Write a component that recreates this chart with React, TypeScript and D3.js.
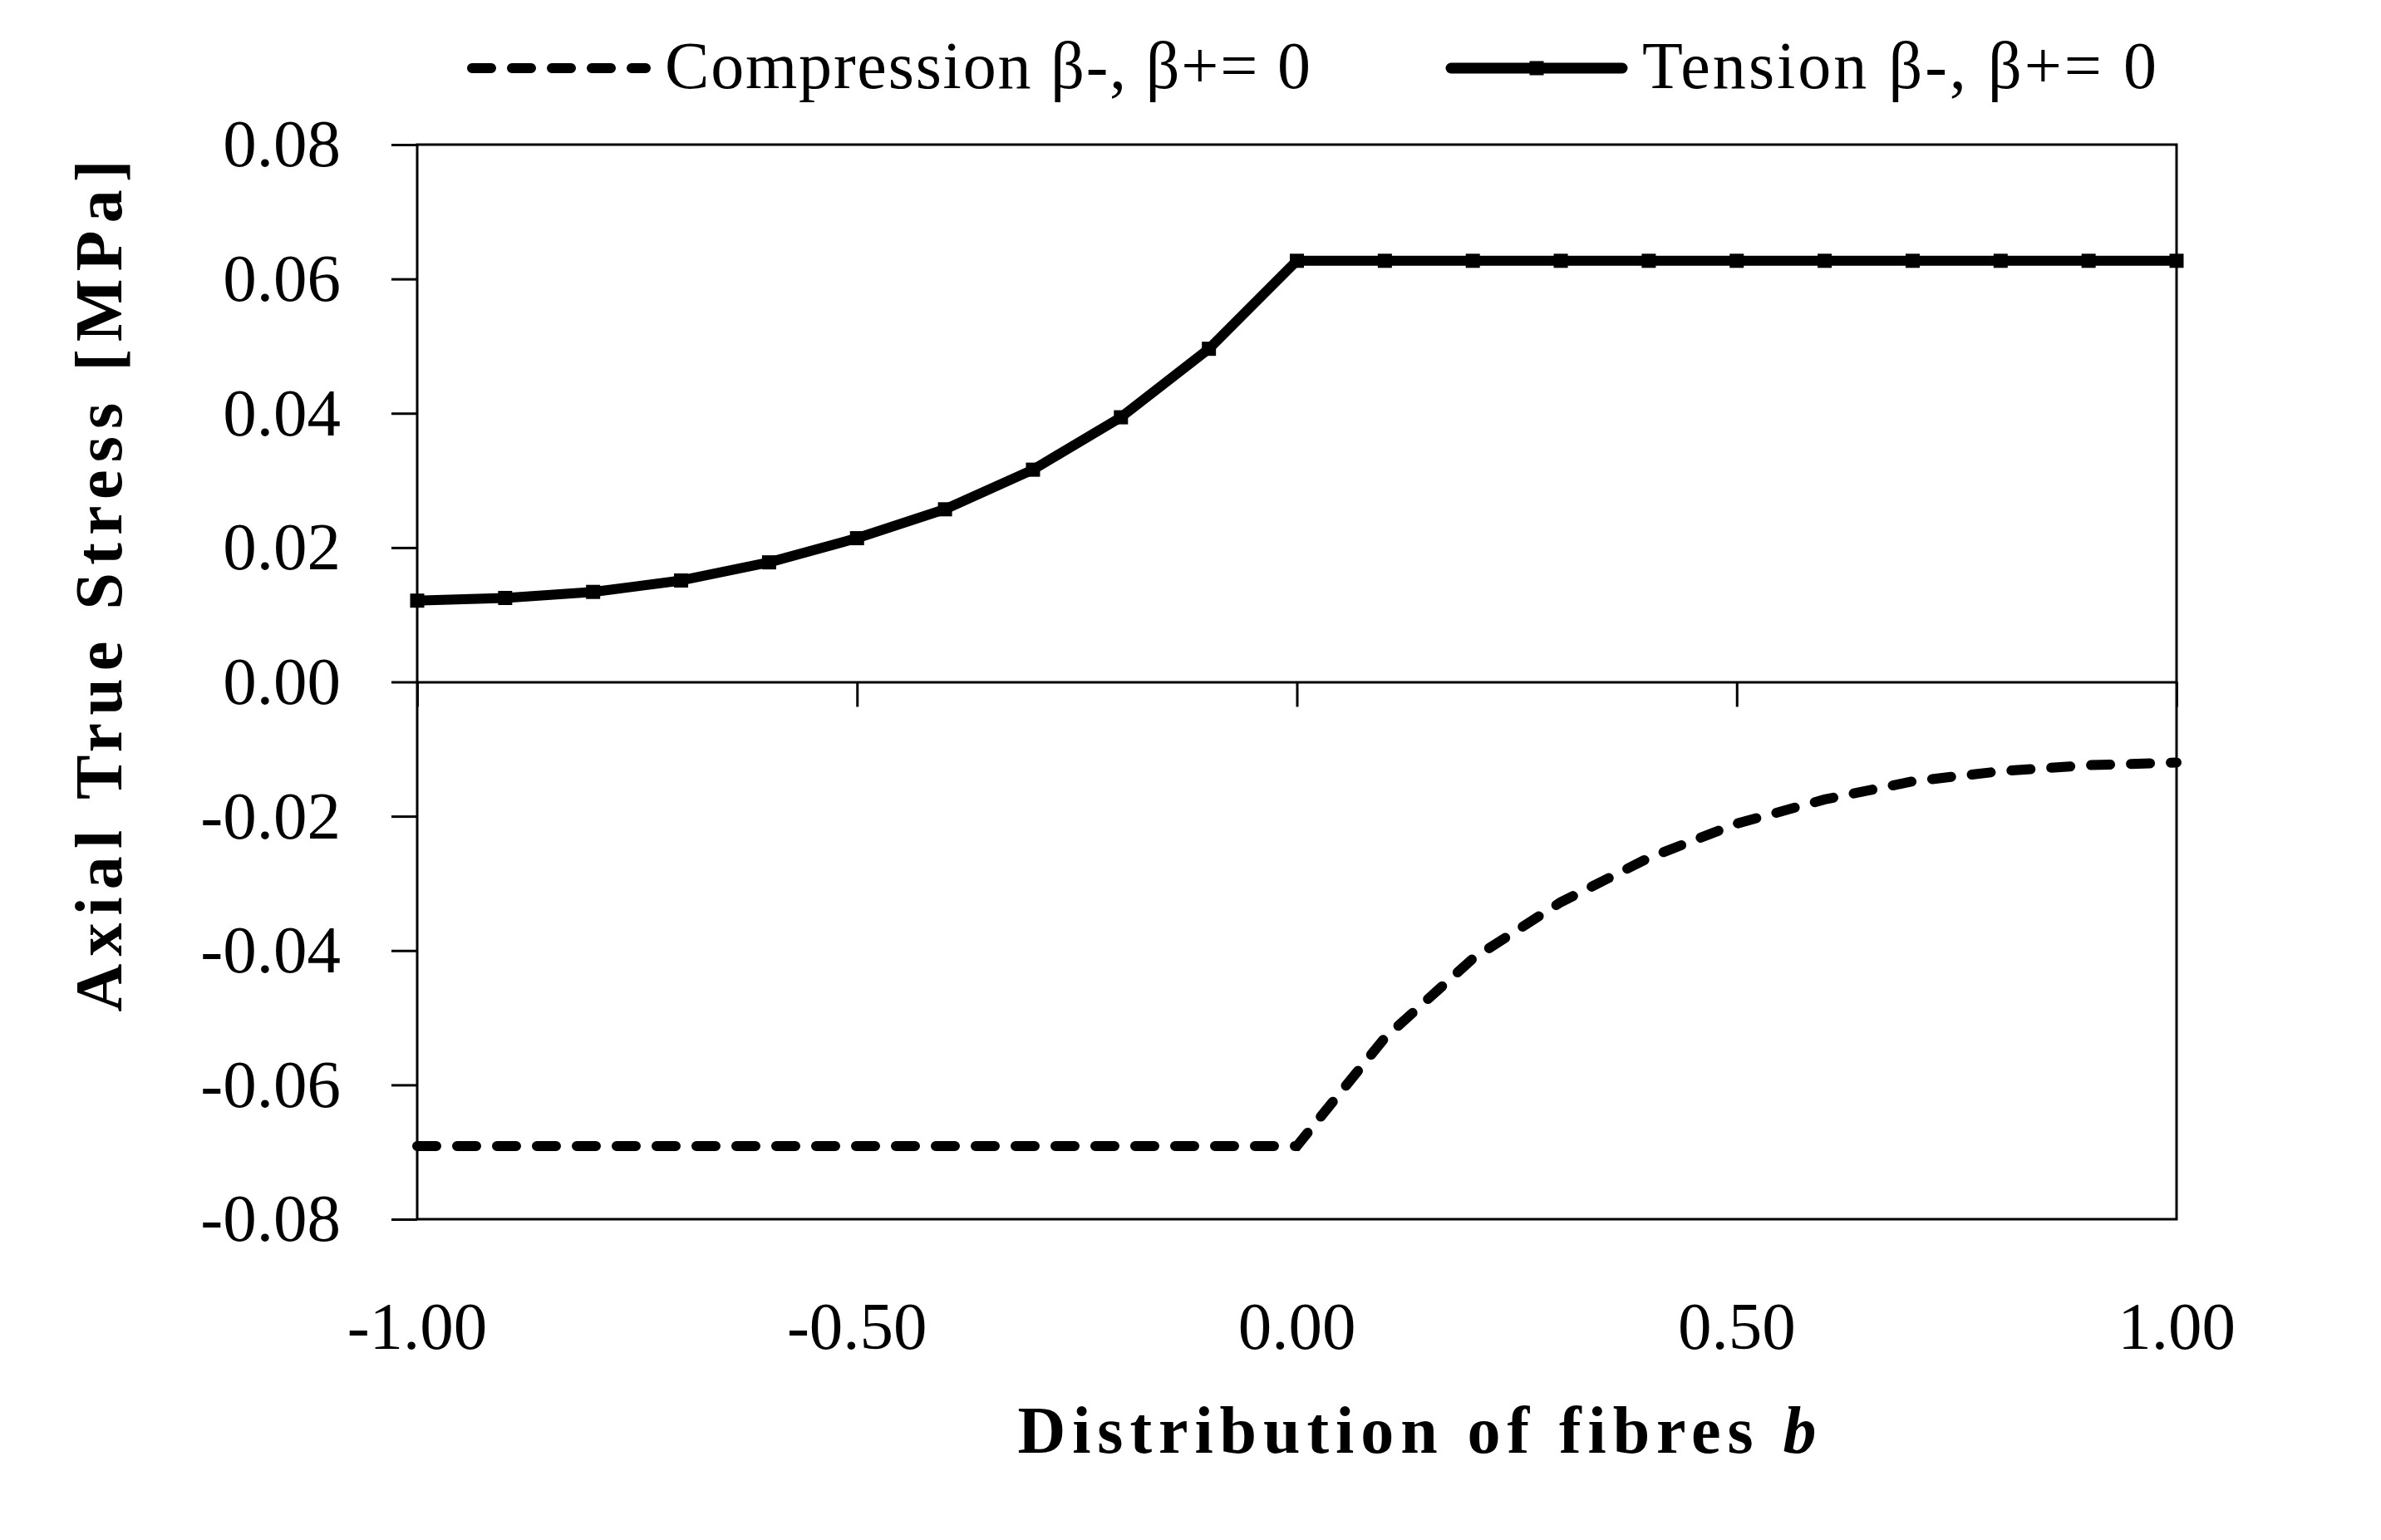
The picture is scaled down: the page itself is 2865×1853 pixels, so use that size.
import React, { useEffect, useRef } from 'react';
import * as d3 from 'd3';

// fibre distribution b
const bValues = [
  -1.0, -0.9, -0.8, -0.7, -0.6, -0.5, -0.4, -0.3, -0.2, -0.1, 0.0,
  0.1, 0.2, 0.3, 0.4, 0.5, 0.6, 0.7, 0.8, 0.9, 1.0,
];

// axial true stress [MPa]
const tension = [
  0.0121, 0.0125, 0.0134, 0.0151, 0.0178, 0.0214, 0.0257, 0.0316, 0.0394, 0.0496, 0.0627,
  0.0627, 0.0627, 0.0627, 0.0627, 0.0627, 0.0627, 0.0627, 0.0627, 0.0627, 0.0627,
];
const compression = [
  -0.0691, -0.0691, -0.0691, -0.0691, -0.0691, -0.0691, -0.0691, -0.0691, -0.0691, -0.0691, -0.0691,
  -0.053, -0.0412, -0.0328, -0.0262, -0.0211, -0.0175, -0.0148, -0.0133, -0.0124, -0.012,
];

const xTicks = [-1.0, -0.5, 0.0, 0.5, 1.0];
const yTicks = [-0.08, -0.06, -0.04, -0.02, 0.0, 0.02, 0.04, 0.06, 0.08];

const legendLabels = ['Compression β-, β+= 0', 'Tension β-, β+= 0'];
const yTitle = 'Axial True Stress [MPa]';
const xTitle = 'Distribution of fibres ';

const W = 2865;
const H = 1853;
const FONT = '"Liberation Serif", "Times New Roman", serif';

const App: React.FC = () => {
  const ref = useRef<SVGSVGElement | null>(null);

  useEffect(() => {
    if (!ref.current) return;
    const svg = d3.select(ref.current);
    svg.selectAll('*').remove();

    const left = 502;
    const right = 2619;
    const top = 174;
    const bottom = 1467;

    const x = d3.scaleLinear().domain([-1, 1]).range([left, right]);
    const y = d3.scaleLinear().domain([-0.08, 0.08]).range([bottom, top]);

    svg.append('rect').attr('width', W).attr('height', H).attr('fill', '#fff');

    // plot frame
    svg
      .append('rect')
      .attr('x', left)
      .attr('y', top)
      .attr('width', right - left)
      .attr('height', bottom - top)
      .attr('fill', 'none')
      .attr('stroke', '#000')
      .attr('stroke-width', 3);

    // y axis
    const yAxis = svg
      .append('g')
      .attr('transform', `translate(${left},0)`)
      .call(
        d3
          .axisLeft(y)
          .tickValues(yTicks)
          .tickSize(31)
          .tickPadding(61)
          .tickFormat((d) => (d as number).toFixed(2))
      );
    yAxis.select('.domain').remove();
    yAxis.selectAll('line').attr('stroke', '#000').attr('stroke-width', 3);
    yAxis
      .selectAll('text')
      .attr('font-family', FONT)
      .attr('font-size', 81)
      .attr('fill', '#000');

    // x axis along the zero line
    const xAxis = svg
      .append('g')
      .attr('transform', `translate(0,${y(0)})`)
      .call(d3.axisBottom(x).tickValues(xTicks).tickSize(30).tickSizeOuter(0).tickFormat(() => ''));
    xAxis.select('.domain').attr('stroke', '#000').attr('stroke-width', 3);
    xAxis.selectAll('line').attr('stroke', '#000').attr('stroke-width', 3);

    // x tick labels below the plot
    svg
      .append('g')
      .selectAll('text')
      .data(xTicks)
      .enter()
      .append('text')
      .attr('x', (d) => x(d))
      .attr('y', 1623)
      .attr('text-anchor', 'middle')
      .attr('font-family', FONT)
      .attr('font-size', 81)
      .text((d) => d.toFixed(2));

    // compression (dashed)
    const line = d3
      .line<number>()
      .x((_, i) => x(bValues[i]))
      .y((d) => y(d));

    svg
      .append('path')
      .datum(compression)
      .attr('d', line)
      .attr('fill', 'none')
      .attr('stroke', '#000')
      .attr('stroke-width', 12)
      .attr('stroke-dasharray', '23 25')
      .attr('stroke-linecap', 'round');

    // tension (solid with square markers)
    svg
      .append('path')
      .datum(tension)
      .attr('d', line)
      .attr('fill', 'none')
      .attr('stroke', '#000')
      .attr('stroke-width', 12)
      .attr('stroke-linejoin', 'round');

    const m = 17;
    svg
      .append('g')
      .selectAll('rect')
      .data(tension)
      .enter()
      .append('rect')
      .attr('x', (_, i) => x(bValues[i]) - m / 2)
      .attr('y', (d) => y(d) - m / 2)
      .attr('width', m)
      .attr('height', m)
      .attr('fill', '#000');

    // legend
    const leg = svg.append('g');
    leg
      .append('line')
      .attr('x1', 568)
      .attr('x2', 777)
      .attr('y1', 82)
      .attr('y2', 82)
      .attr('stroke', '#000')
      .attr('stroke-width', 12)
      .attr('stroke-dasharray', '23 25')
      .attr('stroke-linecap', 'round');
    leg
      .append('text')
      .attr('x', 800)
      .attr('y', 106)
      .attr('font-family', FONT)
      .attr('font-size', 80)
      .attr('textLength', 777)
      .attr('lengthAdjust', 'spacing')
      .text(legendLabels[0]);
    leg
      .append('line')
      .attr('x1', 1746)
      .attr('x2', 1952)
      .attr('y1', 82)
      .attr('y2', 82)
      .attr('stroke', '#000')
      .attr('stroke-width', 13)
      .attr('stroke-linecap', 'round');
    leg
      .append('rect')
      .attr('x', 1849 - m / 2)
      .attr('y', 82 - m / 2)
      .attr('width', m)
      .attr('height', m)
      .attr('fill', '#000');
    leg
      .append('text')
      .attr('x', 1976)
      .attr('y', 106)
      .attr('font-family', FONT)
      .attr('font-size', 80)
      .attr('textLength', 619)
      .attr('lengthAdjust', 'spacing')
      .text(legendLabels[1]);

    // axis titles
    svg
      .append('text')
      .attr('transform', 'translate(146,705) rotate(-90)')
      .attr('text-anchor', 'middle')
      .attr('font-family', FONT)
      .attr('font-weight', 'bold')
      .attr('font-size', 80)
      .attr('textLength', 1025)
      .attr('lengthAdjust', 'spacing')
      .text(yTitle);

    const xt = svg
      .append('text')
      .attr('x', 1705)
      .attr('y', 1748)
      .attr('text-anchor', 'middle')
      .attr('font-family', FONT)
      .attr('font-weight', 'bold')
      .attr('font-size', 80)
      .attr('textLength', 961)
      .attr('lengthAdjust', 'spacing');
    xt.append('tspan').text(xTitle);
    xt.append('tspan').attr('font-style', 'italic').text('b');
  }, []);

  return (
    <svg
      ref={ref}
      width={W}
      height={H}
      style={{ position: 'absolute', left: 0, top: 0, display: 'block' }}
    ></svg>
  );
};

export default App;
